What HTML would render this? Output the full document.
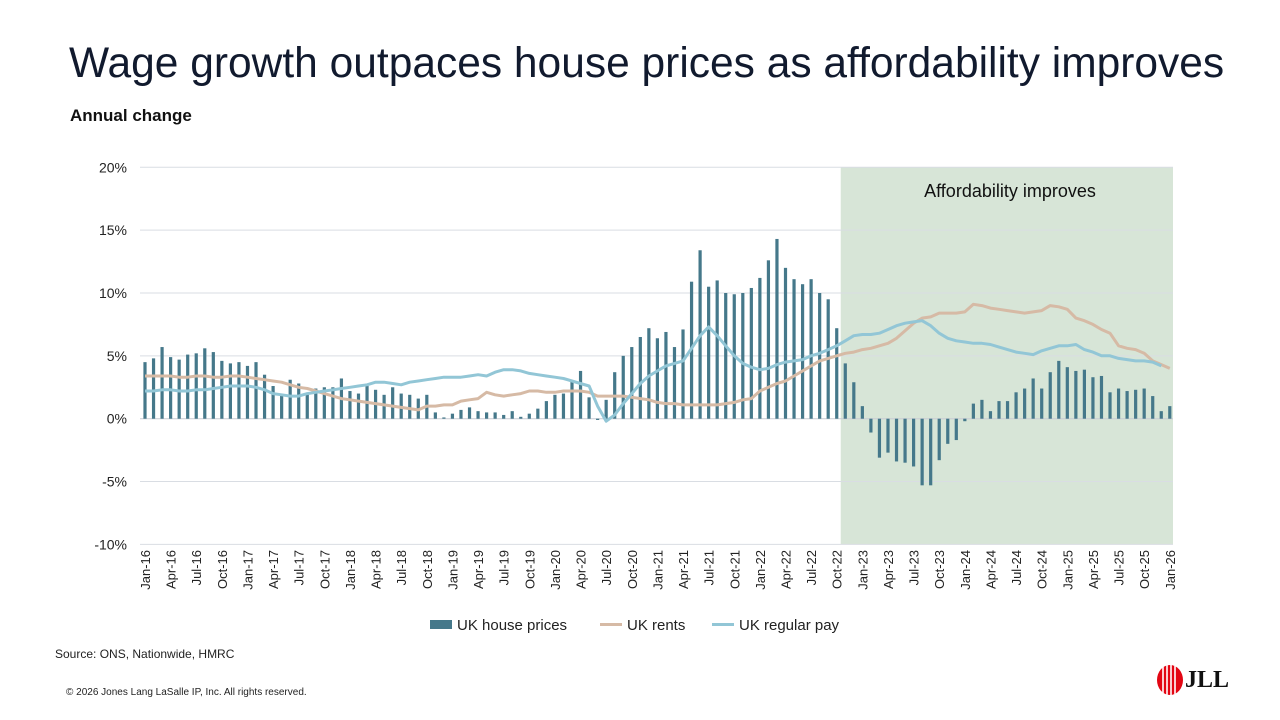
<!DOCTYPE html>
<html><head><meta charset="utf-8"><style>
body{margin:0;width:1280px;height:720px;background:#fff;font-family:"Liberation Sans",sans-serif;overflow:hidden;position:relative}
.t{position:absolute;white-space:nowrap}
</style></head><body>
<div class="t" style="left:69px;top:40px;font-size:42.5px;color:#111a2e">Wage growth outpaces house prices as affordability improves</div>
<div class="t" style="left:70px;top:106px;font-size:17px;font-weight:bold;color:#111">Annual change</div>
<svg id="chart" width="1280" height="720" style="position:absolute;left:0;top:0"></svg>
<div class="t" style="left:55px;top:647px;font-size:12px;color:#222">Source: ONS, Nationwide, HMRC</div>
<div class="t" style="left:66px;top:687px;font-size:10px;color:#222">© 2026 Jones Lang LaSalle IP, Inc. All rights reserved.</div>
<div style="position:absolute;left:1155px;top:663px;width:72px;height:34px">
<svg width="30" height="34" style="position:absolute;left:0;top:0"><ellipse cx="15" cy="17" rx="13" ry="15" fill="#e30613"/><g stroke="#fff" stroke-width="1.6"><line x1="8" y1="4" x2="8" y2="30"/><line x1="12" y1="2" x2="12" y2="32"/><line x1="16" y1="2" x2="16" y2="32"/><line x1="20" y1="3" x2="20" y2="31"/></g></svg>
<div class="t" style="left:30px;top:4px;font-family:'Liberation Serif',serif;font-weight:bold;font-size:24px;color:#111">JLL</div>
</div>
<script>
const months=["Jan","Feb","Mar","Apr","May","Jun","Jul","Aug","Sep","Oct","Nov","Dec"];
const housePrices=[4.5,4.8,5.7,4.9,4.7,5.1,5.2,5.6,5.3,4.6,4.4,4.5,
4.2,4.5,3.5,2.6,1.9,3.1,2.8,2.0,2.4,2.5,2.5,3.2,
2.2,2.0,2.6,2.3,1.9,2.5,2.0,1.9,1.6,1.9,0.5,0.1,
0.4,0.7,0.9,0.6,0.5,0.5,0.3,0.6,0.15,0.4,0.8,1.4,
1.9,2.0,3.0,3.8,1.7,-0.1,1.5,3.7,5.0,5.7,6.5,7.2,
6.4,6.9,5.7,7.1,10.9,13.4,10.5,11.0,10.0,9.9,10.0,10.4,
11.2,12.6,14.3,12.0,11.1,10.7,11.1,10.0,9.5,7.2,4.4,2.9,
1.0,-1.1,-3.1,-2.7,-3.4,-3.5,-3.8,-5.3,-5.3,-3.3,-2.0,-1.7,
-0.2,1.2,1.5,0.6,1.4,1.4,2.1,2.4,3.2,2.4,3.7,4.6,
4.1,3.8,3.9,3.3,3.4,2.1,2.4,2.2,2.3,2.4,1.8,0.6,
1.0];
const rents=[3.4,3.4,3.4,3.4,3.3,3.3,3.4,3.4,3.3,3.3,3.4,3.4,
3.3,3.2,3.1,3.0,2.9,2.7,2.5,2.4,2.2,2.0,1.8,1.6,
1.5,1.4,1.3,1.2,1.1,1.0,0.9,0.8,0.7,1.0,1.0,1.1,
1.1,1.4,1.5,1.6,2.1,1.9,1.8,1.9,2.0,2.2,2.2,2.1,
2.1,2.2,2.2,2.2,2.1,1.8,1.8,1.8,1.8,1.7,1.6,1.5,
1.3,1.2,1.2,1.1,1.1,1.1,1.1,1.1,1.2,1.3,1.5,1.6,
2.2,2.5,2.8,3.0,3.4,3.8,4.2,4.6,4.8,5.0,5.2,5.3,
5.5,5.6,5.8,6.0,6.4,7.0,7.6,8.0,8.1,8.4,8.4,8.4,
8.5,9.1,9.0,8.8,8.7,8.6,8.5,8.4,8.5,8.6,9.0,8.9,
8.7,8.0,7.8,7.5,7.1,6.8,5.8,5.6,5.5,5.2,4.6,4.3,
4.0];
const regularPay=[2.2,2.2,2.3,2.3,2.2,2.2,2.3,2.3,2.4,2.5,2.6,2.6,
2.6,2.5,2.3,2.0,1.9,1.8,1.8,2.0,2.1,2.2,2.3,2.4,
2.5,2.6,2.7,2.9,2.9,2.8,2.7,2.9,3.0,3.1,3.2,3.3,
3.3,3.3,3.4,3.5,3.4,3.7,3.9,3.9,3.8,3.6,3.5,3.4,
3.3,3.2,3.0,2.8,2.6,1.0,-0.2,0.3,1.2,2.0,2.8,3.4,
3.8,4.2,4.4,4.6,5.6,6.6,7.3,6.6,5.8,5.0,4.4,4.1,
3.9,4.0,4.3,4.5,4.6,4.7,5.0,5.2,5.5,5.8,6.2,6.6,
6.7,6.7,6.8,7.1,7.4,7.6,7.7,7.8,7.4,6.8,6.4,6.2,
6.1,6.0,6.0,5.9,5.7,5.5,5.3,5.2,5.1,5.4,5.6,5.8,
5.8,5.9,5.5,5.3,5.0,5.0,4.8,4.7,4.6,4.6,4.5,4.2,
null];
const yTicks=[20,15,10,5,0,-5,-10];
const shadeStart=81;

const svg=document.getElementById('chart');
const NS='http://www.w3.org/2000/svg';
const X0=145,DX=8.54,LEFT=140,RIGHT=1173;
const x=i=>X0+DX*i;
const y=v=>418.7-v*12.57;
function mk(tag,attrs){const e=document.createElementNS(NS,tag);for(const k in attrs)e.setAttribute(k,attrs[k]);svg.appendChild(e);return e;}

const sh=mk('rect',{x:x(shadeStart)+4,y:y(20),width:RIGHT-(x(shadeStart)+4),height:y(-10)-y(20),fill:'#d7e5d7'});


const st=mk('text',{x:1010,y:197,'font-size':18,'text-anchor':'middle',fill:'#111','font-family':'Liberation Sans'});
st.textContent='Affordability improves';



yTicks.forEach(t=>{
  const g=mk('line',{x1:LEFT,x2:RIGHT,y1:y(t),y2:y(t),stroke:t===0?'#c8ccd4':'#d9dde3','stroke-width':1});
  
  
  const l=mk('text',{x:127,y:y(t)+5,'font-size':14,'text-anchor':'end',fill:'#222','font-family':'Liberation Sans'});
  l.textContent=t+'%';
  
  
});

housePrices.forEach((v,i)=>{
  const r=mk('rect',{x:x(i)-1.6,y:Math.min(y(v),y(0)),width:3.2,height:Math.abs(y(v)-y(0)),fill:'#45788a'});
  
  
});

function line(arr,col,name){
  let d='';arr.forEach((v,i)=>{if(v===null)return;d+=(d?'L':'M')+x(i).toFixed(1)+' '+y(v).toFixed(1);});
  const p=mk('path',{d:d,fill:'none',stroke:col,'stroke-width':3,'stroke-linejoin':'round'});
  
  
}
line(rents,'#d6baa5','line-uk-rents');
line(regularPay,'#92c6d6','line-uk-regular-pay');

for(let i=0;i<housePrices.length;i+=3){
  const yr=String(16+Math.floor(i/12));
  const t=mk('text',{transform:`translate(${x(i)+5},550) rotate(-90)`,'font-size':13,'text-anchor':'end',fill:'#222','font-family':'Liberation Sans'});
  t.textContent=months[i%12]+'-'+yr;
  
  
}

const lg=[['rect','#45788a','UK house prices',430],['line','#d6baa5','UK rents',600],['line','#92c6d6','UK regular pay',712]];
lg.forEach(([k,c,txt,lx])=>{
  if(k==='rect'){const r=mk('rect',{x:lx,y:620,width:22,height:9,fill:c});}
  else{const l=mk('line',{x1:lx,x2:lx+22,y1:624.5,y2:624.5,stroke:c,'stroke-width':3});}
  const t=mk('text',{x:lx+27,y:630,'font-size':15,fill:'#222','font-family':'Liberation Sans'});
  t.textContent=txt;
  
  
});
</script>
</body></html>
